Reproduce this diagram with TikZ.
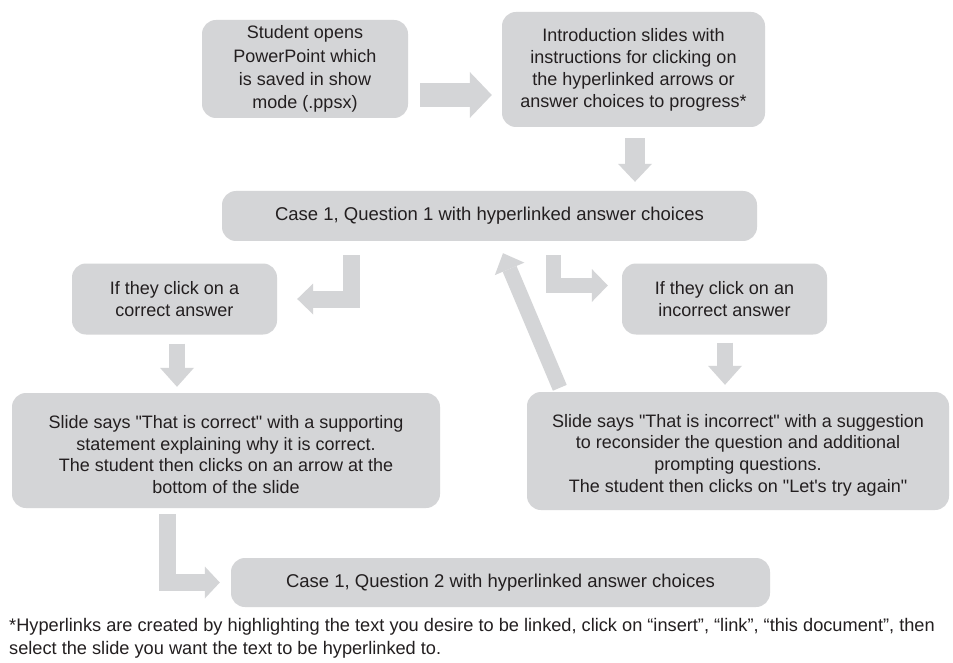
\documentclass[tikz,border=0pt]{standalone}
\usepackage{fontspec}
\setmainfont{Liberation Sans}
\usetikzlibrary{arrows.meta,calc}
\definecolor{boxgray}{HTML}{D4D5D7}
\definecolor{txt}{HTML}{231F20}
\newcommand{\fss}[2]{\fontsize{#1}{#2}\selectfont}
\tikzset{
  box/.style={fill=boxgray, rounded corners=14pt, align=center, text=txt,
    font=\fss{18}{22.5}, inner sep=0pt},
  boxtext/.style={align=center, text=txt, font=\fss{18}{21.7}, inner sep=0pt},
  blk/.style n args={3}{draw=boxgray, line width=#1, line join=miter,
    -{Triangle[width=#2 0 0, length=#3 0 0, line width=0pt 0 0, fill=boxgray]}},
  foot/.style={anchor=west, text=txt, font=\fss{18.2}{23}, inner sep=0pt}
}
\begin{document}
\begin{tikzpicture}[x=1pt,y=-1pt]
\useasboundingbox (0,0) rectangle (953,663);
\fill[white] (0,0) rectangle (953,663);
\node[box, font=\fss{18}{23.2}, minimum width=206, minimum height=98] (A) at (305,69)
  {Student opens\\PowerPoint which\\is saved in show\\mode (.ppsx)};
\node[box, font=\fss{18}{22}, minimum width=263, minimum height=115] (B) at (633.5,69.5)
  {Introduction slides with\\instructions for clicking on\\the hyperlinked arrows or\\answer choices to progress*};
\node[box, font=\fss{18.5}{22}, minimum width=535, minimum height=50] (C) at (489.5,216)
  {Case 1, Question 1 with hyperlinked answer choices};
\node[box, font=\fss{18}{22}, minimum width=205, minimum height=71] (D) at (174.5,299)
  {If they click on a\\correct answer};
\node[box, font=\fss{18}{22}, minimum width=205, minimum height=71] (E) at (724.5,299)
  {If they click on an\\incorrect answer};
\node[box, minimum width=428, minimum height=115] (G) at (226,450.5) {};
\node[boxtext] (Gt) at ($(G.center)+(0,4)$)
  {Slide says \textquotedbl That is correct\textquotedbl{} with a supporting\\statement explaining why it is correct.\\The student then clicks on an arrow at the\\bottom of the slide};
\node[box, minimum width=422, minimum height=118] (F) at (738,451) {};
\node[boxtext] (Ft) at ($(F.center)+(0,4)$)
  {Slide says \textquotedbl That is incorrect\textquotedbl{} with a suggestion\\to reconsider the question and additional\\prompting questions.\\The student then clicks on \textquotedbl Let\textquotesingle s try again\textquotedbl};
\node[box, font=\fss{18.5}{22}, minimum width=539, minimum height=49] (H) at (500.5,582.5)
  {Case 1, Question 2 with hyperlinked answer choices};
\node[foot] (fn1) at (9,627)
  {*Hyperlinks are created by highlighting the text you desire to be linked, click on “insert”, “link”, “this document”, then};
\node[foot] (fn2) at (9,650)
  {select the slide you want the text to be hyperlinked to.};
% arrows
\draw[blk={24pt}{46pt}{22pt}] ($(A.east)+(12,26)$) -- ($(B.west)+(-10,25.5)$);
\draw[blk={20pt}{34pt}{18pt}] ($(B.south)+(1.5,11)$) -- ($(C.north)+(145.5,-9)$);
\draw[blk={17pt}{31pt}{16pt}] ($(C.south)+(-138,14)$) |- ($(D.east)+(20,0)$);
\draw[blk={15pt}{33pt}{16pt}] ($(C.south)+(64,14)$) |- ($(E.west)+(-14,-13.5)$);
\draw[blk={16pt}{34pt}{19pt}] ($(D.south)+(2.5,9)$) -- ($(G.north)+(-49,-6)$);
\draw[blk={16pt}{34pt}{19pt}] ($(E.south)+(0.5,8)$) -- ($(F.north)+(-13,-7)$);
\draw[blk={15pt}{32pt}{17pt}] ($(F.north west)+(33,-4)$) -- ($(C.south)+(13.5,12)$);
\draw[blk={17pt}{32pt}{15pt}] ($(G.south)+(-58.5,6)$) |- ($(H.west)+(-11,0)$);
\end{tikzpicture}
\end{document}
